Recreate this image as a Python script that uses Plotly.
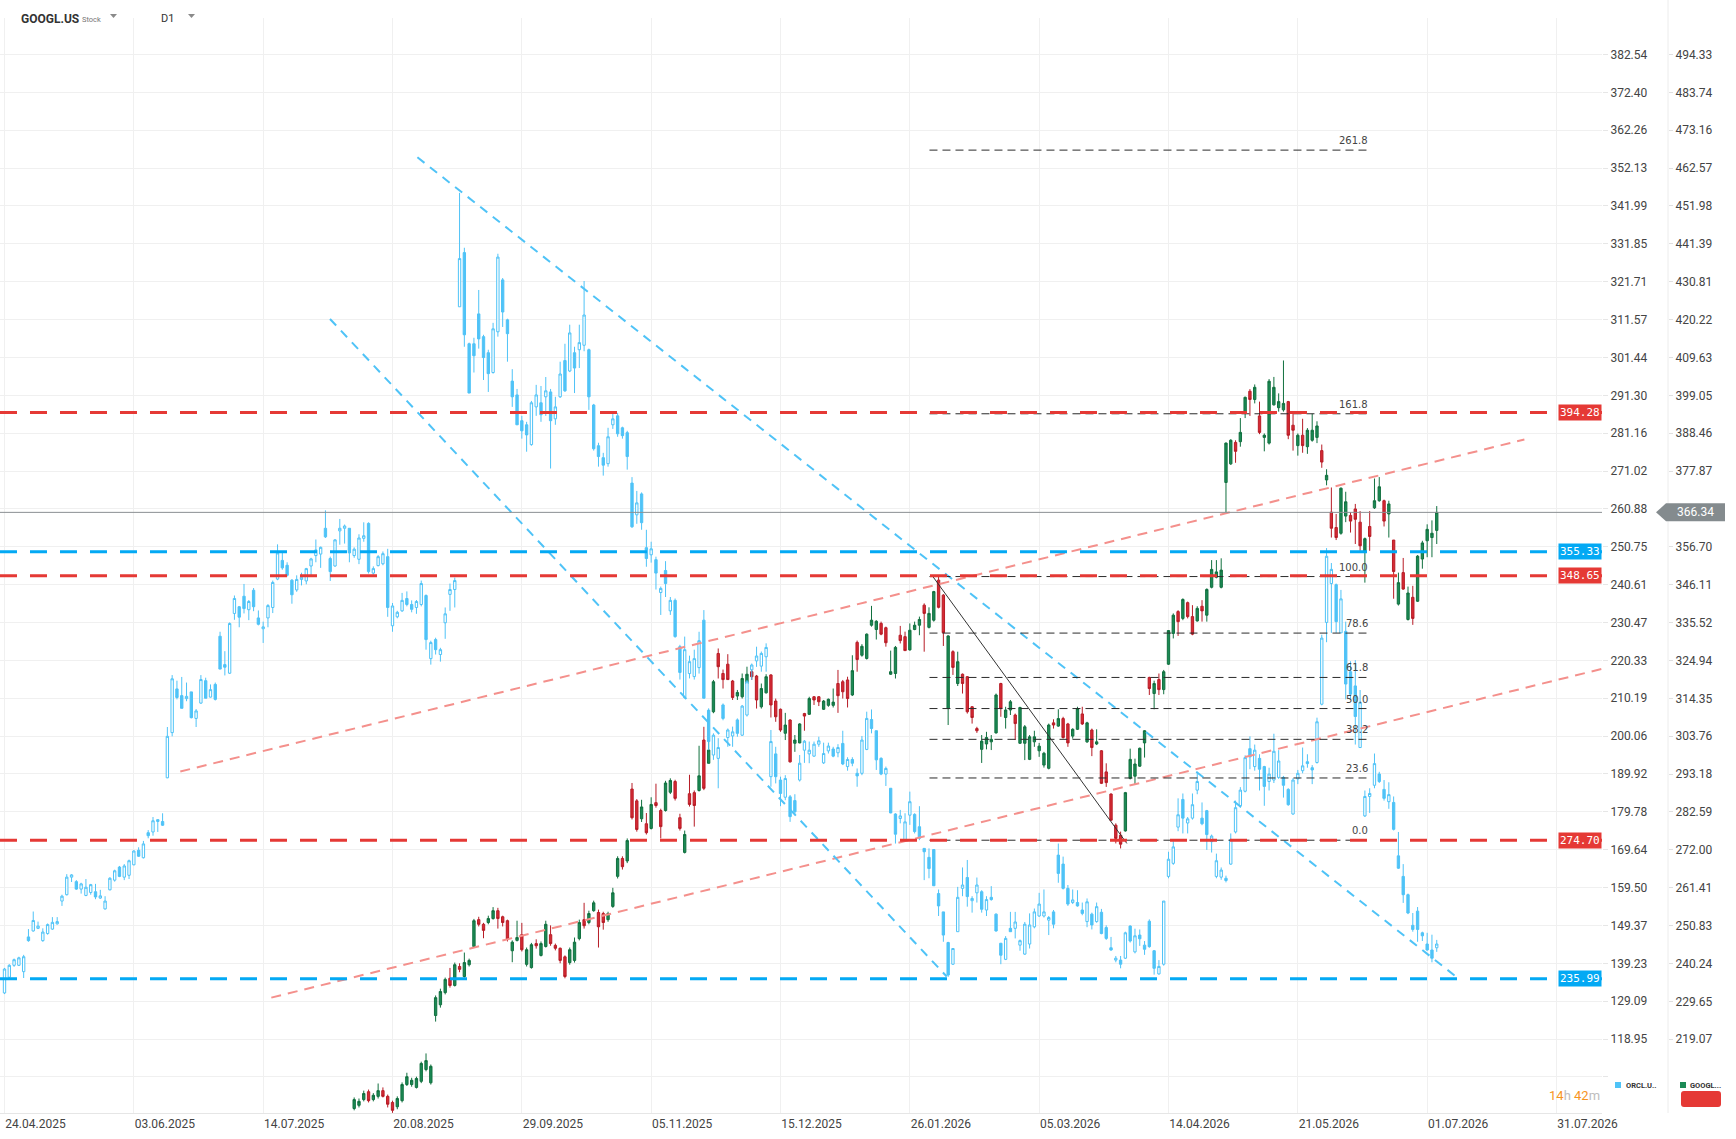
import plotly.graph_objects as go

# ---------------------------------------------------------------- data
date_labels = ["24.04.2025", "03.06.2025", "14.07.2025", "20.08.2025", "29.09.2025",
               "05.11.2025", "15.12.2025", "26.01.2026", "05.03.2026", "14.04.2026",
               "21.05.2026", "01.07.2026", "31.07.2026"]
bars_per_label = 27

# ORCL.US (left price scale), one candle per trading day starting 24.04.2025
orcl_open = [
    131.3, 135.5, 138.7, 138.7, 137.0, 146.3, 147.9, 148.6, 145.3, 147.2,
    148.4, 149.8, 155.9, 157.6, 162.3, 161.1, 159.1, 157.4, 158.2, 158.4,
    156.7, 153.8, 158.9, 161.5, 165.0, 162.3, 162.8, 165.6, 169.5, 167.5,
    174.2, 174.4, 177.2, 177.2, 188.9, 201.0, 212.7, 210.9, 210.1, 211.9,
    204.8, 208.9, 214.9, 210.5, 213.9, 226.8, 219.2, 216.9, 232.9, 234.7,
    237.5, 233.9, 239.1, 231.7, 228.8, 231.7, 234.5, 242.1, 247.1, 245.8,
    241.8, 239.2, 242.0, 241.6, 245.6, 248.4, 248.8, 255.7, 247.6, 245.6,
    255.0, 255.7, 255.7, 248.4, 247.4, 253.0, 257.0, 243.7, 245.7, 246.2,
    248.1, 229.6, 232.0, 233.6, 236.9, 235.3, 234.5, 235.3, 237.7, 220.8,
    225.9, 221.9, 230.4, 238.0, 239.3, 315.0, 329.5, 305.1, 305.1, 313.1,
    307.0, 302.7, 297.4, 308.3, 322.2, 311.5, 295.1, 291.4, 284.5, 283.4,
    278.1, 288.2, 289.3, 290.9, 292.2, 285.0, 290.9, 300.6, 297.8, 302.7,
    303.5, 304.7, 303.5, 288.7, 277.8, 274.6, 273.0, 283.4, 285.8, 282.6,
    281.3, 267.8, 259.3, 264.9, 250.5, 248.6, 247.3, 238.5, 244.4, 233.6,
    236.4, 224.0, 210.4, 216.8, 216.0, 218.4, 231.1, 207.0, 195.0, 194.1,
    208.4, 199.7, 200.1, 204.4, 200.3, 205.7, 217.8, 220.2, 218.8, 221.3,
    189.2, 195.3, 188.3, 183.7, 183.8, 182.8, 188.3, 196.3, 195.3, 194.7,
    197.9, 192.9, 196.1, 196.6, 195.6, 198.1, 191.9, 193.8, 190.1, 190.1,
    196.5, 204.5, 201.5, 194.1, 189.9, 186.1, 179.2, 178.0, 172.2, 178.9,
    179.1, 175.8, 170.0, 167.6, 169.7, 157.9, 153.0, 144.8, 139.0, 147.7,
    159.3, 162.2, 156.0, 158.1, 158.4, 153.5, 156.9, 152.4, 144.6, 140.3,
    148.6, 148.6, 144.1, 141.7, 144.4, 149.0, 151.9, 151.9, 150.8, 153.0,
    168.2, 165.8, 159.3, 155.5, 155.5, 153.5, 150.4, 152.4, 150.4, 152.9,
    148.8, 143.4, 140.1, 140.1, 140.6, 149.2, 142.3, 146.8, 144.1, 150.5,
    142.6, 136.4, 139.0, 162.5, 166.0, 175.7, 183.1, 176.8, 178.1, 185.6,
    178.1, 180.1, 171.8, 162.5, 162.3, 162.0, 165.8, 174.4, 181.4, 185.3,
    196.7, 191.9, 194.1, 191.9, 187.9, 188.3, 189.0, 189.0, 185.8, 179.2,
    188.6, 190.8, 193.2, 191.6, 193.0, 208.6, 230.5, 240.9, 240.6, 227.7,
    228.1, 217.3, 213.5, 197.0, 178.7, 183.9, 186.9, 189.9, 185.8, 182.5,
    182.3, 168.0, 162.5, 157.6, 149.4, 153.2, 147.4, 144.4, 142.8, 143.4,
]
orcl_high = [
    138.0, 139.0, 140.5, 141.0, 141.5, 148.4, 153.1, 150.4, 148.6, 149.9,
    151.6, 151.6, 157.6, 163.1, 163.1, 161.5, 160.8, 161.8, 160.5, 160.5,
    158.9, 157.2, 162.3, 164.3, 165.3, 165.8, 167.0, 169.5, 170.3, 172.0,
    174.9, 178.4, 177.8, 179.4, 202.5, 216.4, 214.9, 215.9, 214.4, 211.9,
    207.3, 216.4, 215.7, 213.9, 214.4, 228.0, 222.8, 230.5, 237.7, 234.9,
    240.8, 236.5, 239.7, 233.7, 230.7, 235.4, 241.7, 251.4, 249.1, 246.6,
    242.1, 243.1, 243.8, 245.1, 247.8, 252.7, 250.8, 260.5, 248.1, 252.8,
    258.2, 256.7, 255.7, 250.6, 254.1, 257.3, 257.3, 245.5, 248.5, 249.5,
    250.2, 235.7, 233.6, 238.4, 238.8, 236.4, 236.5, 241.7, 238.0, 225.6,
    226.4, 223.7, 234.5, 240.9, 242.5, 345.5, 330.8, 305.4, 306.7, 319.5,
    307.5, 303.5, 310.7, 329.2, 322.7, 311.8, 298.3, 293.0, 285.8, 284.2,
    289.8, 294.1, 293.8, 296.2, 293.0, 290.9, 300.3, 305.1, 310.2, 304.3,
    310.2, 321.9, 303.8, 289.0, 278.6, 275.9, 282.6, 286.6, 286.6, 282.9,
    281.8, 269.4, 265.7, 265.3, 255.3, 252.1, 248.1, 240.1, 246.9, 237.3,
    236.9, 224.5, 226.7, 221.6, 223.2, 228.0, 233.8, 207.5, 200.8, 199.5,
    208.8, 202.1, 202.6, 204.8, 208.4, 215.1, 219.5, 224.0, 222.7, 224.9,
    201.7, 197.2, 189.2, 189.6, 184.3, 184.5, 195.0, 199.0, 198.6, 198.6,
    199.9, 198.3, 198.3, 197.2, 197.9, 201.5, 194.4, 194.4, 191.4, 200.1,
    206.6, 207.2, 201.5, 194.4, 191.9, 186.1, 179.4, 180.3, 179.4, 185.2,
    179.4, 181.3, 170.0, 170.0, 169.7, 159.0, 153.0, 145.0, 143.2, 159.7,
    164.9, 166.9, 157.2, 162.2, 158.8, 157.2, 159.9, 152.6, 144.7, 146.5,
    153.0, 153.0, 145.6, 150.3, 152.6, 153.9, 158.1, 159.0, 151.9, 153.5,
    171.3, 167.8, 160.2, 159.0, 158.8, 155.5, 156.6, 152.8, 155.5, 153.8,
    149.4, 146.3, 141.2, 141.2, 147.7, 149.4, 148.5, 148.3, 145.2, 151.0,
    142.8, 140.1, 155.9, 169.1, 171.9, 183.4, 184.7, 178.4, 184.7, 190.5,
    182.3, 180.3, 173.7, 168.6, 164.9, 162.7, 174.0, 182.8, 186.4, 194.9,
    200.0, 197.8, 195.2, 192.1, 191.6, 200.7, 196.3, 189.4, 186.1, 188.8,
    191.0, 197.0, 195.2, 192.3, 205.0, 227.2, 250.4, 246.4, 240.9, 239.2,
    230.7, 220.1, 220.4, 212.4, 185.5, 186.1, 195.4, 190.5, 188.3, 187.7,
    183.9, 174.4, 165.8, 157.9, 152.7, 154.3, 147.7, 147.4, 146.9, 145.5,
]
orcl_low = [
    131.0, 135.3, 138.3, 138.5, 135.3, 145.0, 147.7, 148.4, 145.0, 146.9,
    148.2, 149.6, 154.6, 157.4, 161.0, 158.9, 157.9, 157.2, 157.6, 156.4,
    156.5, 153.6, 158.8, 161.1, 162.3, 161.5, 161.8, 165.5, 167.7, 167.3,
    172.7, 173.4, 174.4, 176.0, 188.8, 200.0, 209.9, 207.5, 209.4, 204.8,
    202.5, 208.7, 210.2, 210.4, 209.6, 218.0, 216.3, 216.7, 231.2, 229.2,
    232.9, 231.1, 233.5, 229.7, 225.0, 229.2, 233.0, 241.8, 244.6, 242.8,
    235.5, 238.7, 240.4, 240.7, 243.1, 246.6, 245.1, 253.1, 241.6, 245.4,
    251.3, 251.6, 246.6, 247.8, 246.1, 252.1, 243.6, 243.3, 245.5, 245.8,
    232.0, 228.0, 231.6, 233.3, 234.8, 233.2, 232.8, 234.8, 223.2, 219.2,
    221.9, 220.0, 226.1, 233.6, 234.5, 315.0, 304.3, 291.9, 297.4, 303.8,
    295.4, 292.2, 297.1, 307.0, 309.6, 300.3, 288.2, 283.4, 279.7, 276.2,
    277.8, 285.8, 284.2, 285.8, 271.7, 283.4, 290.6, 292.2, 297.5, 291.9,
    298.6, 303.1, 287.4, 276.5, 272.2, 269.8, 272.2, 282.3, 280.2, 279.7,
    271.4, 255.8, 256.9, 255.3, 245.4, 246.5, 239.3, 232.5, 237.3, 232.5,
    226.4, 215.2, 210.1, 215.5, 215.2, 216.8, 210.2, 196.3, 193.7, 186.1,
    204.3, 197.2, 197.2, 199.9, 200.1, 205.3, 215.1, 218.6, 217.3, 217.3,
    186.5, 187.4, 181.3, 182.9, 177.1, 178.9, 187.9, 192.9, 192.8, 194.5,
    197.2, 192.6, 195.4, 194.4, 194.4, 192.3, 190.8, 192.0, 186.5, 189.6,
    196.3, 200.8, 191.0, 189.6, 186.7, 179.4, 171.3, 176.7, 172.1, 176.3,
    174.0, 172.2, 161.5, 162.0, 160.0, 151.9, 145.0, 135.6, 138.8, 147.7,
    157.2, 154.4, 152.8, 155.5, 152.8, 151.9, 156.0, 147.7, 139.0, 140.1,
    147.7, 145.9, 142.6, 141.5, 143.2, 148.6, 151.7, 151.5, 146.8, 148.6,
    160.8, 159.0, 154.6, 155.1, 154.4, 152.1, 148.9, 148.3, 150.1, 147.0,
    145.5, 142.6, 139.5, 137.9, 140.4, 144.8, 141.9, 143.9, 141.5, 143.4,
    136.2, 136.2, 138.6, 162.0, 165.6, 174.6, 174.0, 174.0, 177.7, 184.5,
    176.2, 169.6, 168.9, 162.0, 161.6, 160.9, 165.6, 174.0, 180.9, 185.0,
    191.2, 190.8, 185.5, 181.4, 185.5, 187.5, 188.6, 183.6, 181.4, 179.0,
    187.2, 190.1, 191.6, 187.2, 192.7, 208.3, 225.2, 227.7, 227.7, 227.7,
    209.9, 209.9, 197.8, 197.0, 178.4, 179.5, 186.1, 187.5, 182.8, 180.6,
    174.8, 164.5, 155.4, 152.4, 147.7, 145.0, 145.2, 142.6, 139.5, 142.3,
]
orcl_close = [
    137.7, 138.7, 140.2, 140.7, 141.0, 145.3, 150.7, 149.2, 147.6, 149.6,
    150.2, 150.4, 157.2, 162.3, 162.9, 159.1, 160.5, 159.6, 160.3, 157.0,
    157.3, 155.9, 162.0, 164.0, 162.5, 165.3, 166.7, 169.3, 167.9, 171.2,
    173.4, 177.4, 177.7, 176.2, 200.0, 215.4, 210.4, 207.5, 210.7, 205.0,
    206.8, 215.2, 210.2, 212.5, 209.9, 218.0, 218.5, 230.2, 236.9, 231.9,
    234.2, 236.1, 234.7, 230.0, 229.3, 235.0, 241.2, 249.1, 245.1, 243.1,
    237.9, 242.0, 242.6, 244.9, 247.5, 249.9, 250.6, 253.4, 244.1, 252.6,
    255.7, 256.3, 249.1, 250.1, 253.1, 253.7, 244.1, 244.9, 248.1, 248.9,
    234.5, 234.9, 233.2, 236.4, 235.3, 234.0, 236.1, 240.9, 225.9, 225.1,
    223.2, 223.2, 232.8, 239.3, 241.7, 327.9, 307.5, 291.9, 301.9, 306.4,
    301.4, 297.1, 309.1, 328.3, 313.6, 307.8, 290.9, 283.4, 281.8, 280.7,
    289.3, 291.4, 286.1, 292.5, 284.5, 288.2, 297.0, 292.5, 308.0, 298.6,
    305.4, 312.8, 290.9, 277.0, 274.9, 272.6, 280.2, 285.0, 281.0, 280.5,
    274.9, 256.1, 262.5, 257.2, 247.6, 250.2, 243.7, 239.6, 240.9, 236.4,
    226.7, 217.1, 223.2, 220.0, 220.8, 225.6, 210.2, 198.6, 200.3, 197.0,
    204.8, 201.7, 201.2, 200.8, 208.1, 214.6, 219.1, 221.5, 222.2, 223.8,
    198.6, 189.2, 184.7, 188.7, 178.5, 179.8, 192.8, 198.7, 196.3, 197.9,
    198.8, 195.4, 197.4, 194.7, 197.0, 192.6, 193.8, 192.8, 189.4, 199.0,
    204.8, 202.1, 193.7, 189.9, 191.4, 179.5, 173.8, 178.7, 177.1, 182.5,
    174.5, 172.7, 169.1, 164.6, 160.0, 154.6, 146.8, 136.1, 143.2, 156.9,
    160.2, 157.1, 156.6, 160.2, 153.7, 156.3, 156.3, 147.9, 141.4, 145.9,
    147.7, 150.3, 145.3, 149.7, 149.5, 153.0, 155.1, 153.0, 151.5, 149.7,
    163.3, 159.3, 155.1, 156.2, 154.6, 152.6, 155.7, 149.5, 154.4, 147.2,
    145.9, 142.8, 140.6, 139.0, 147.4, 145.2, 146.6, 145.8, 143.0, 143.7,
    137.9, 138.4, 155.9, 167.1, 170.4, 179.0, 178.1, 177.9, 181.7, 187.9,
    176.6, 173.7, 173.3, 166.7, 164.2, 161.4, 172.4, 180.9, 185.6, 194.3,
    194.5, 196.3, 191.2, 186.6, 189.9, 196.0, 193.4, 186.9, 181.7, 188.3,
    190.1, 192.1, 192.7, 191.0, 203.9, 226.3, 248.2, 244.7, 230.7, 236.8,
    214.0, 211.3, 205.3, 209.1, 183.9, 184.7, 192.7, 187.9, 183.4, 184.4,
    175.1, 164.7, 157.6, 152.7, 148.3, 148.3, 146.6, 142.8, 140.6, 144.4,
]

# GOOGL.US (right price scale); earlier candles lie below the visible range
googl_first_bar = 73
googl_open = [
    199.7, 200.6, 202.2, 204.4, 202.2, 203.1, 204.7, 203.1, 201.4, 200.2,
    201.9, 206.4, 206.4, 205.6, 207.3, 210.6, 206.9, 225.7, 228.7, 232.1,
    236.1, 234.1, 239.4, 236.6, 239.9, 245.0, 252.5, 251.2, 251.7, 252.8,
    255.0, 253.3, 252.2, 243.8, 246.7, 248.3, 240.0, 239.1, 245.8, 242.5,
    245.0, 248.3, 245.3, 244.5, 242.1, 240.5, 241.1, 247.2, 252.5, 251.7,
    255.0, 254.5, 254.2, 252.5, 256.2, 264.6, 269.6, 268.9, 289.0, 285.7,
    280.7, 279.3, 278.0, 285.2, 283.0, 283.0, 288.1, 291.1, 281.0, 271.3,
    287.7, 288.0, 288.6, 302.7, 296.2, 310.6, 326.9, 321.3, 323.9, 319.2,
    315.0, 314.8, 318.5, 321.8, 320.6, 312.0, 315.9, 320.9, 313.6, 311.3,
    304.6, 308.3, 301.8, 301.9, 310.1, 309.9, 314.8, 314.8, 311.3, 312.4,
    312.4, 318.5, 319.0, 319.5, 315.3, 330.0, 326.4, 325.5, 334.8, 333.6,
    335.3, 334.1, 321.1, 321.3, 332.0, 331.6, 327.9, 333.6, 334.8, 340.4,
    334.2, 336.2, 347.4, 343.2, 311.5, 327.4, 318.5, 321.1, 320.4, 312.0,
    305.9, 300.1, 301.6, 302.2, 304.7, 318.5, 309.0, 311.1, 309.7, 301.8,
    301.8, 297.3, 302.2, 299.7, 295.7, 294.8, 307.5, 306.6, 308.7, 307.2,
    303.8, 305.7, 310.0, 302.2, 305.5, 301.6, 299.7, 293.8, 287.6, 278.9,
    276.1, 277.3, 292.0, 292.6, 295.4, 301.9, 320.2, 315.7, 319.6, 316.8,
    323.9, 332.5, 338.6, 336.7, 341.1, 337.2, 336.0, 340.1, 337.6, 345.4,
    348.2, 345.4, 374.7, 379.9, 385.9, 386.1, 394.5, 400.2, 397.9, 393.3,
    387.3, 385.7, 396.4, 395.6, 395.0, 397.3, 390.7, 385.0, 387.9, 384.7,
    386.5, 387.3, 383.6, 375.4, 366.4, 362.1, 360.5, 365.3, 365.5, 367.3,
    363.6, 355.2, 362.4, 367.6, 369.6, 369.6, 365.9, 358.6, 340.7, 349.5,
    336.4, 342.6, 341.5, 353.3, 358.4, 359.3, 361.3,
]
googl_high = [
    202.8, 202.5, 204.7, 205.0, 204.0, 206.7, 205.6, 203.6, 201.9, 203.1,
    207.0, 209.7, 208.3, 208.6, 212.8, 215.1, 212.0, 231.3, 233.2, 236.3,
    239.0, 240.5, 240.3, 243.3, 241.6, 252.7, 253.3, 251.6, 253.6, 256.0,
    255.8, 253.6, 252.5, 246.7, 252.2, 251.6, 244.7, 246.0, 247.0, 246.4,
    252.2, 250.9, 245.8, 244.7, 242.5, 244.7, 247.5, 252.5, 257.2, 255.0,
    257.8, 255.3, 254.7, 254.7, 261.4, 270.2, 270.2, 275.2, 290.7, 286.2,
    286.0, 282.3, 286.7, 290.5, 283.5, 291.3, 292.0, 291.6, 282.1, 277.4,
    293.0, 288.6, 301.1, 306.4, 311.1, 319.5, 328.3, 322.4, 326.7, 319.5,
    316.7, 321.3, 323.2, 323.2, 320.9, 318.5, 321.1, 321.1, 314.3, 311.5,
    310.3, 308.5, 304.1, 307.4, 310.3, 314.8, 315.0, 315.0, 313.9, 314.3,
    317.1, 322.3, 319.5, 320.4, 326.4, 330.5, 329.5, 332.5, 340.2, 336.2,
    335.8, 334.4, 327.7, 329.0, 334.6, 333.0, 335.3, 335.8, 337.2, 340.9,
    339.8, 344.4, 348.8, 343.5, 332.0, 327.8, 327.4, 321.3, 320.6, 312.2,
    306.4, 304.1, 305.0, 304.1, 315.7, 318.7, 312.0, 313.9, 310.1, 312.0,
    306.9, 304.1, 305.3, 301.9, 299.4, 307.3, 308.5, 311.3, 309.2, 307.5,
    306.0, 312.0, 312.0, 307.8, 305.9, 305.7, 299.9, 296.2, 287.8, 279.4,
    277.1, 288.2, 300.3, 297.5, 300.6, 305.5, 320.4, 319.3, 321.3, 322.3,
    333.4, 338.1, 339.0, 342.3, 341.4, 340.4, 340.1, 341.8, 345.1, 353.0,
    353.0, 353.5, 385.9, 386.8, 386.5, 392.7, 398.7, 400.8, 402.1, 397.3,
    388.4, 403.6, 404.2, 399.6, 408.8, 397.5, 393.9, 388.4, 392.5, 389.9,
    393.9, 391.8, 385.3, 378.4, 373.3, 365.9, 373.3, 372.1, 366.4, 368.7,
    366.7, 359.3, 366.7, 375.8, 376.2, 369.9, 369.6, 358.6, 349.5, 353.6,
    345.6, 345.8, 354.4, 358.4, 363.0, 364.1, 368.1,
]
googl_low = [
    199.2, 200.0, 201.7, 201.4, 201.7, 202.5, 202.8, 200.0, 198.5, 199.5,
    201.4, 206.0, 205.8, 205.3, 206.8, 210.1, 206.4, 224.0, 227.9, 231.6,
    233.5, 233.8, 237.8, 236.3, 239.4, 244.7, 250.6, 247.3, 251.2, 252.5,
    250.0, 250.6, 246.4, 240.6, 246.4, 243.6, 239.4, 238.8, 244.4, 242.2,
    244.7, 245.2, 243.9, 240.3, 236.1, 239.9, 240.5, 246.7, 250.0, 251.2,
    254.7, 244.7, 249.7, 251.9, 255.8, 264.0, 266.5, 268.3, 280.5, 277.1,
    279.8, 276.3, 277.7, 283.8, 275.2, 282.7, 287.6, 285.8, 277.4, 271.0,
    284.1, 278.5, 288.3, 288.7, 296.2, 310.2, 319.9, 317.1, 319.5, 313.9,
    313.9, 314.3, 318.1, 319.5, 311.5, 311.5, 315.7, 309.0, 307.8, 305.0,
    302.7, 296.4, 299.4, 301.8, 305.3, 309.7, 312.5, 312.2, 311.1, 312.0,
    311.8, 310.3, 314.3, 311.8, 315.0, 321.8, 326.0, 325.2, 334.4, 330.8,
    332.0, 328.8, 320.9, 319.9, 329.7, 327.7, 327.7, 333.4, 332.0, 327.4,
    333.9, 335.8, 339.5, 329.0, 306.9, 320.9, 317.8, 315.7, 310.1, 307.3,
    304.7, 296.3, 300.1, 299.9, 304.5, 309.2, 305.9, 309.7, 302.7, 301.6,
    297.1, 297.1, 300.8, 298.0, 295.0, 294.5, 305.9, 306.4, 303.1, 300.8,
    303.1, 305.5, 306.9, 301.9, 298.2, 301.3, 290.4, 289.6, 280.1, 273.8,
    272.4, 277.1, 291.7, 290.4, 295.2, 297.8, 315.3, 311.3, 315.3, 315.5,
    323.7, 331.1, 331.8, 336.2, 336.7, 332.0, 335.8, 335.8, 335.8, 345.1,
    347.9, 345.1, 366.4, 379.6, 380.2, 384.7, 392.7, 393.3, 396.8, 388.2,
    383.4, 385.3, 396.2, 394.5, 394.5, 386.8, 383.6, 382.2, 383.0, 382.7,
    386.1, 385.7, 378.8, 373.9, 359.3, 358.6, 360.1, 363.6, 360.7, 357.5,
    355.6, 346.7, 355.6, 367.3, 369.3, 362.4, 359.3, 342.2, 340.3, 344.7,
    336.1, 334.9, 341.3, 350.6, 353.8, 353.8, 357.5,
]
googl_close = [
    202.2, 201.7, 203.9, 201.9, 203.4, 204.7, 203.1, 200.9, 199.2, 202.5,
    206.4, 208.6, 207.6, 208.1, 212.3, 213.1, 211.5, 230.7, 232.4, 235.8,
    234.1, 239.9, 238.6, 240.5, 241.1, 252.2, 251.2, 249.5, 252.8, 255.0,
    252.8, 251.7, 247.0, 246.2, 247.5, 244.1, 244.1, 245.5, 245.2, 245.8,
    251.2, 245.8, 244.5, 241.1, 236.6, 244.1, 246.2, 251.7, 250.8, 254.2,
    257.2, 250.5, 251.7, 254.2, 260.0, 269.6, 267.3, 274.6, 281.0, 277.7,
    284.0, 276.8, 284.7, 284.4, 278.5, 290.7, 291.4, 286.4, 278.0, 276.3,
    284.7, 284.4, 292.7, 289.2, 299.9, 319.0, 323.2, 319.6, 319.6, 314.6,
    316.0, 319.9, 321.1, 320.4, 313.9, 317.1, 320.4, 312.5, 309.2, 305.5,
    306.9, 296.6, 302.7, 307.2, 309.4, 314.3, 313.9, 313.4, 313.6, 314.1,
    313.3, 315.1, 316.2, 314.3, 322.1, 325.2, 328.9, 332.3, 336.2, 335.9,
    332.3, 329.9, 321.8, 328.6, 330.5, 327.7, 333.4, 334.8, 336.4, 338.1,
    338.1, 344.2, 339.8, 332.7, 331.8, 323.0, 324.6, 318.5, 310.6, 309.0,
    305.3, 302.4, 303.4, 302.9, 315.3, 311.5, 311.1, 313.4, 307.3, 311.8,
    306.4, 303.6, 303.6, 301.0, 299.0, 306.9, 306.9, 308.7, 303.4, 301.9,
    305.7, 311.5, 307.2, 307.5, 300.6, 302.2, 290.6, 290.8, 280.3, 275.2,
    273.6, 288.0, 297.3, 296.0, 300.4, 305.3, 317.1, 318.5, 316.8, 321.8,
    333.3, 337.6, 335.8, 342.0, 337.2, 332.3, 339.5, 338.8, 344.8, 350.4,
    349.7, 350.2, 385.7, 386.5, 383.4, 388.7, 398.5, 397.9, 401.3, 388.7,
    387.9, 403.0, 401.3, 397.3, 396.8, 387.9, 389.3, 387.9, 385.0, 389.3,
    389.3, 390.5, 380.4, 376.7, 361.9, 359.3, 373.1, 369.3, 363.9, 364.4,
    357.0, 359.0, 359.6, 369.6, 373.5, 363.9, 368.7, 349.8, 346.7, 344.9,
    343.8, 336.7, 354.1, 357.8, 361.6, 360.5, 366.34,
]

# price scale tick labels
orcl_ticks = [108.81, 118.95, 129.09, 139.23, 149.37, 159.50, 169.64, 179.78, 189.92,
              200.06, 210.19, 220.33, 230.47, 240.61, 250.75, 260.88, 271.02, 281.16,
              291.30, 301.44, 311.57, 321.71, 331.85, 341.99, 352.13, 362.26, 372.40, 382.54]
orcl_tick_text = [""] + ["%.2f" % v for v in orcl_ticks[1:]]
googl_ticks = [219.07, 229.65, 240.24, 250.83, 261.41, 272.00, 282.59, 293.18, 303.76,
               314.35, 324.94, 335.52, 346.11, 356.70, 367.28, 377.87, 388.46, 399.05,
               409.63, 420.22, 430.81, 441.39, 451.98, 462.57, 473.16, 483.74, 494.33]

# drawn analysis objects (bar index, GOOGL price)
red_levels = [394.28, 348.65, 274.70]
blue_levels = [355.33, 235.99]
last_price = 366.34
fib_labels = ["261.8", "161.8", "100.0", "78.6", "61.8", "50.0", "38.2", "23.6", "0.0"]
fib_prices = [467.6, 393.9, 348.4, 332.6, 320.2, 311.5, 302.9, 292.1, 274.7]
fib_span = [193.1, 285.1]
fib_swing = [[193.7, 348.6], [234.3, 273.8]]
blue_channel = [[[86.2, 465.6], [303.0, 236.6]], [[67.95, 420.4], [196.7, 236.6]]]
pink_channel = [[[36.7, 293.9], [317.3, 386.7]], [[55.7, 230.7], [333.5, 322.6]]]

# ---------------------------------------------------------------- geometry / style
W, H = 1736, 1139
ML, MR, MT, MB = 0, 10, 0, 26
PW, PH = W - ML - MR, H - MT - MB          # plotting area (paper units span this)
XD = 1602 / PW                              # right edge of price chart
GOOGL_AX = 1668 / PW                        # right price scale position


def px(x):
    return x / PW


def py(y):
    return 1 - y / PH


RED = "#e53935"
BLUE_H = "#03a9f4"
BLUE_D = "#4fc3f7"
PINK = "#f4908c"
ORCL_C = "#4fc3f7"
GRID = "#f0f0f0"
TXT = "#444444"

fig = go.Figure()

fig.add_trace(go.Candlestick(
    x=list(range(len(orcl_close))), open=orcl_open, high=orcl_high,
    low=orcl_low, close=orcl_close, yaxis="y2", name="ORCL.US",
    increasing=dict(line=dict(color=ORCL_C, width=1), fillcolor="#ffffff"),
    decreasing=dict(line=dict(color=ORCL_C, width=1), fillcolor=ORCL_C),
    whiskerwidth=0, hoverinfo="skip", showlegend=False))

fig.add_trace(go.Candlestick(
    x=list(range(googl_first_bar, googl_first_bar + len(googl_close))),
    open=googl_open, high=googl_high, low=googl_low, close=googl_close,
    yaxis="y", name="GOOGL.US",
    increasing=dict(line=dict(color="#11703f", width=1), fillcolor="#1b8a55"),
    decreasing=dict(line=dict(color="#b71c26", width=1), fillcolor="#d62a34"),
    whiskerwidth=0, hoverinfo="skip", showlegend=False))

shapes = []
# header white band
shapes.append(dict(type="rect", xref="paper", yref="paper", x0=0, x1=1, y0=py(18), y1=1,
                   fillcolor="white", line=dict(width=0), layer="above"))
# separator between the two price scales
shapes.append(dict(type="line", xref="paper", yref="paper", x0=GOOGL_AX, x1=GOOGL_AX,
                   y0=0, y1=1, line=dict(color="#ececec", width=1)))
# channel lines
for (a, b) in pink_channel:
    shapes.append(dict(type="line", xref="x", yref="y", x0=a[0], y0=a[1], x1=b[0], y1=b[1],
                       line=dict(color=PINK, width=2, dash="10px,7px")))
for (a, b) in blue_channel:
    shapes.append(dict(type="line", xref="x", yref="y", x0=a[0], y0=a[1], x1=b[0], y1=b[1],
                       line=dict(color=BLUE_D, width=2, dash="9px,7px")))
# fibonacci
for v in fib_prices:
    shapes.append(dict(type="line", xref="x", yref="y", x0=fib_span[0], x1=fib_span[1],
                       y0=v, y1=v, line=dict(color="#2b2b2b", width=1, dash="8px,5px")))
shapes.append(dict(type="line", xref="x", yref="y", x0=fib_swing[0][0], y0=fib_swing[0][1],
                   x1=fib_swing[1][0], y1=fib_swing[1][1], line=dict(color="#333333", width=1)))
# horizontal levels
for v in red_levels:
    shapes.append(dict(type="line", xref="paper", yref="y", x0=0, x1=XD, y0=v, y1=v,
                       line=dict(color=RED, width=3, dash="17px,13px")))
for v in blue_levels:
    shapes.append(dict(type="line", xref="paper", yref="y", x0=0, x1=XD, y0=v, y1=v,
                       line=dict(color=BLUE_H, width=3, dash="17px,13px")))
# last price line and tag
shapes.append(dict(type="line", xref="paper", yref="y", x0=0, x1=XD, y0=last_price, y1=last_price,
                   line=dict(color="#8a8f92", width=1)))
hh = 9 / 3.5775
shapes.append(dict(type="path", xref="paper", yref="y",
                   path="M %f,%f L %f,%f L %f,%f L %f,%f L %f,%f Z" % (
                       px(1656), last_price, px(1666), last_price + hh, px(1725), last_price + hh,
                       px(1725), last_price - hh, px(1666), last_price - hh),
                   fillcolor="#848b8e", line=dict(width=0)))
# header dropdown triangles
for x0 in (110, 188):
    shapes.append(dict(type="path", xref="paper", yref="paper",
                       path="M %f,%f L %f,%f L %f,%f Z" % (px(x0), py(14), px(x0 + 7), py(14),
                                                           px(x0 + 3.5), py(18)),
                       fillcolor="#8a8a8a", line=dict(width=0)))
# bottom-right legend
shapes.append(dict(type="rect", xref="paper", yref="paper", x0=px(1615), x1=px(1621),
                   y0=py(1088), y1=py(1082), fillcolor=ORCL_C, line=dict(width=0)))
shapes.append(dict(type="rect", xref="paper", yref="paper", x0=px(1680), x1=px(1686),
                   y0=py(1088), y1=py(1082), fillcolor="#1b8a55", line=dict(width=0)))
shapes.append(dict(type="path", xref="paper", yref="paper",
                   path="M %f,%f L %f,%f Q %f,%f %f,%f L %f,%f Q %f,%f %f,%f L %f,%f Q %f,%f %f,%f L %f,%f Q %f,%f %f,%f Z" % (
                       px(1684), py(1091), px(1718), py(1091), px(1721), py(1091), px(1721), py(1094),
                       px(1721), py(1104), px(1721), py(1107), px(1718), py(1107),
                       px(1684), py(1107), px(1681), py(1107), px(1681), py(1104),
                       px(1681), py(1094), px(1681), py(1091), px(1684), py(1091)),
                   fillcolor=RED, line=dict(width=0)))

annotations = []
for v in red_levels:
    annotations.append(dict(xref="paper", yref="y", x=XD, y=v, xanchor="right", yanchor="middle",
                            text="%.2f" % v, showarrow=False, bgcolor=RED, borderpad=1,
                            font=dict(family="DejaVu Sans Mono", size=11, color="white")))
for v in blue_levels:
    annotations.append(dict(xref="paper", yref="y", x=XD, y=v, xanchor="right", yanchor="middle",
                            text="%.2f" % v, showarrow=False, bgcolor=BLUE_H, borderpad=1,
                            font=dict(family="DejaVu Sans Mono", size=11, color="white")))
for lab, v in zip(fib_labels, fib_prices):
    annotations.append(dict(xref="x", yref="y", x=fib_span[1], y=v, xanchor="right",
                            yanchor="bottom", yshift=2, text=lab, showarrow=False,
                            font=dict(family="DejaVu Sans", size=10, color=TXT)))
annotations.append(dict(xref="paper", yref="y", x=px(1695.5), y=last_price, xanchor="center",
                        yanchor="middle", text="%.2f" % last_price, showarrow=False,
                        font=dict(family="Roboto", size=12, color="white")))
annotations += [
    dict(xref="paper", yref="paper", x=px(19), y=py(19), xanchor="left", yanchor="middle",
         text="<b>GOOGL.US</b>", showarrow=False, font=dict(family="Roboto", size=12, color="#333")),
    dict(xref="paper", yref="paper", x=px(80), y=py(20), xanchor="left", yanchor="middle",
         text="Stock", showarrow=False, font=dict(family="Roboto", size=7.5, color="#777")),
    dict(xref="paper", yref="paper", x=px(159), y=py(19), xanchor="left", yanchor="middle",
         text="D1", showarrow=False, font=dict(family="Roboto", size=11, color="#333")),
    dict(xref="paper", yref="paper", x=px(1624), y=py(1085), xanchor="left", yanchor="middle",
         text="<b>ORCL.U..</b>", showarrow=False, font=dict(family="Roboto", size=7.5, color="#333")),
    dict(xref="paper", yref="paper", x=px(1688), y=py(1085), xanchor="left", yanchor="middle",
         text="<b>GOOGL...</b>", showarrow=False, font=dict(family="Roboto", size=7.5, color="#333")),
    dict(xref="paper", yref="paper", x=px(1602), y=py(1095), xanchor="right", yanchor="middle",
         text="<span style='color:#f7941d'>14</span><span style='color:#bdbdbd'>h</span> "
              "<span style='color:#f7941d'>42</span><span style='color:#bdbdbd'>m</span>",
         showarrow=False, font=dict(family="Roboto", size=13)),
]

tick_font = dict(family="Roboto", size=12, color=TXT)
fig.update_layout(
    width=W, height=H, margin=dict(l=ML, r=MR, t=MT, b=MB),
    paper_bgcolor="white", plot_bgcolor="white", showlegend=False, hovermode=False,
    xaxis=dict(domain=[0, XD], range=[-0.94, 333.5], automargin=False,
               tickvals=[bars_per_label * k for k in range(len(date_labels))],
               ticktext=date_labels, ticklabelshift=31, ticklabeloverflow="allow",
               showgrid=True, gridcolor=GRID, gridwidth=1, zeroline=False,
               showline=True, linecolor="#e6e6e6", ticks="", tickfont=tick_font,
               rangeslider=dict(visible=False)),
    yaxis=dict(range=[198.45, 509.56], side="right", anchor="free", position=GOOGL_AX,
               automargin=False, tickvals=googl_ticks,
               ticktext=["%.2f" % v for v in googl_ticks], showgrid=False, zeroline=False,
               ticks="outside", ticklen=4, tickcolor="#e0e0e0", tickfont=tick_font),
    yaxis2=dict(range=[99.16, 397.13], side="right", anchor="x", overlaying="y",
                automargin=False, tickvals=orcl_ticks, ticktext=orcl_tick_text,
                showgrid=True, gridcolor=GRID, gridwidth=1, zeroline=False,
                ticks="outside", ticklen=5, tickcolor="#e6e6e6", tickfont=tick_font),
    shapes=shapes, annotations=annotations,
)

fig.write_html("out.html")
